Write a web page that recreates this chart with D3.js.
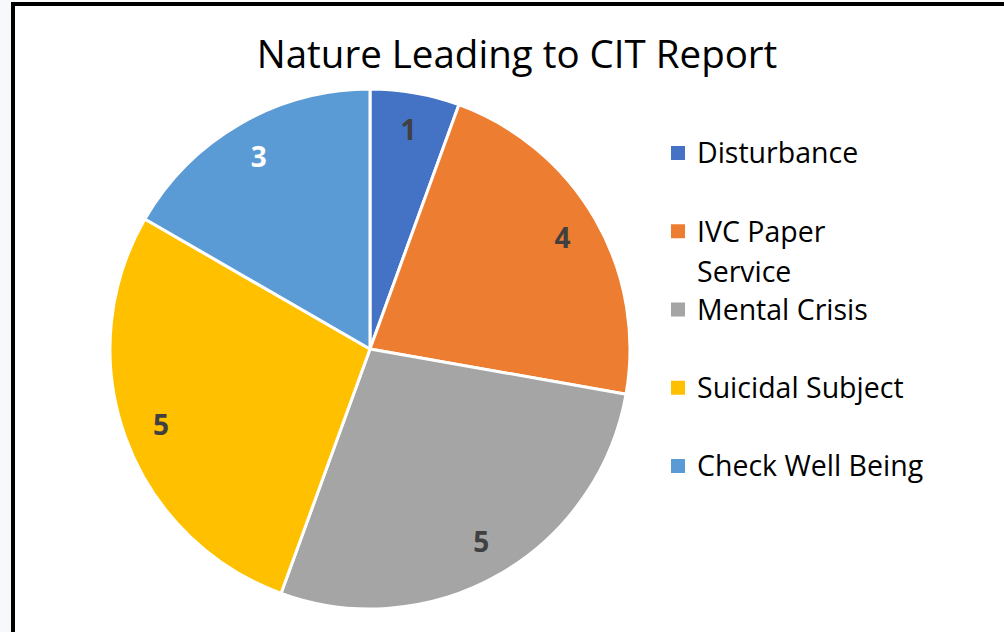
<!DOCTYPE html>
<html>
<head>
<meta charset="utf-8">
<script src="https://cdn.jsdelivr.net/npm/d3@7"></script>
<style>
  html, body { margin: 0; padding: 0; background: #fff; }
  svg { display: block; }
</style>
</head>
<body>
<div id="chart"></div>
<script>
// data
const categories = ["Disturbance", "IVC Paper Service", "Mental Crisis", "Suicidal Subject", "Check Well Being"];
const legendLines = [["Disturbance"], ["IVC Paper", "Service"], ["Mental Crisis"], ["Suicidal Subject"], ["Check Well Being"]];
const counts = [1, 4, 5, 5, 3];
const colors = ["#4472C4", "#ED7D31", "#A5A5A5", "#FFC000", "#5B9BD5"];
const labelColors = ["#404040", "#404040", "#404040", "#404040", "#ffffff"];

const width = 1004;
const height = 632;
const font = "'Open Sans', 'Noto Sans', sans-serif";

const svg = d3.select("#chart")
  .append("svg")
  .attr("width", width)
  .attr("height", height)
  .style("font-family", font);

svg.append("rect").attr("width", width).attr("height", height).attr("fill", "#fff");
svg.append("rect").attr("width", 11).attr("height", height).attr("fill", "#f6f8fc");

// frame (runs off the right and bottom edges)
svg.append("rect")
  .attr("x", 13).attr("y", 4)
  .attr("width", width + 20).attr("height", height + 20)
  .attr("fill", "none")
  .attr("stroke", "#000")
  .attr("stroke-width", 4);

svg.append("text")
  .attr("x", 517)
  .attr("y", 68)
  .attr("text-anchor", "middle")
  .attr("font-size", 38.5)
  .attr("fill", "#000")
  .text("Nature Leading to CIT Report");

const cx = 370, cy = 349, r = 260;
const g = svg.append("g").attr("transform", `translate(${cx},${cy})`);

const pie = d3.pie().sort(null).value((d) => d);
const arcs = pie(counts);
const arc = d3.arc().innerRadius(0).outerRadius(r);
const labelArc = d3.arc().innerRadius(r * 0.855).outerRadius(r * 0.855);

g.selectAll("path.slice")
  .data(arcs)
  .join("path")
  .attr("class", "slice")
  .attr("d", arc)
  .attr("fill", (d, i) => colors[i])
  .attr("stroke", "#fff")
  .attr("stroke-width", 3)
  .attr("stroke-linejoin", "round");

g.selectAll("text.lbl")
  .data(arcs)
  .join("text")
  .attr("class", "lbl")
  .attr("transform", (d) => `translate(${labelArc.centroid(d)})`)
  .attr("text-anchor", "middle")
  .attr("dy", "0.36em")
  .attr("font-size", 28)
  .attr("font-weight", "bold")
  .attr("fill", (d, i) => labelColors[i])
  .text((d) => d.data);

// legend
const legendY = d3.scalePoint().domain(categories).range([153, 466]);
const legend = svg.append("g");
const item = legend.selectAll("g")
  .data(categories)
  .join("g")
  .attr("transform", (d) => `translate(671,${legendY(d)})`);

item.append("rect")
  .attr("x", 0).attr("y", -7)
  .attr("width", 14).attr("height", 14)
  .attr("fill", (d, i) => colors[i]);

item.append("text")
  .attr("x", 26)
  .attr("font-size", 28.5)
  .attr("fill", "#000")
  .selectAll("tspan")
  .data((d, i) => legendLines[i])
  .join("tspan")
  .attr("x", 26)
  .attr("y", (d, j) => j * 40)
  .attr("dy", "0.36em")
  .text((d) => d);
</script>
</body>
</html>
